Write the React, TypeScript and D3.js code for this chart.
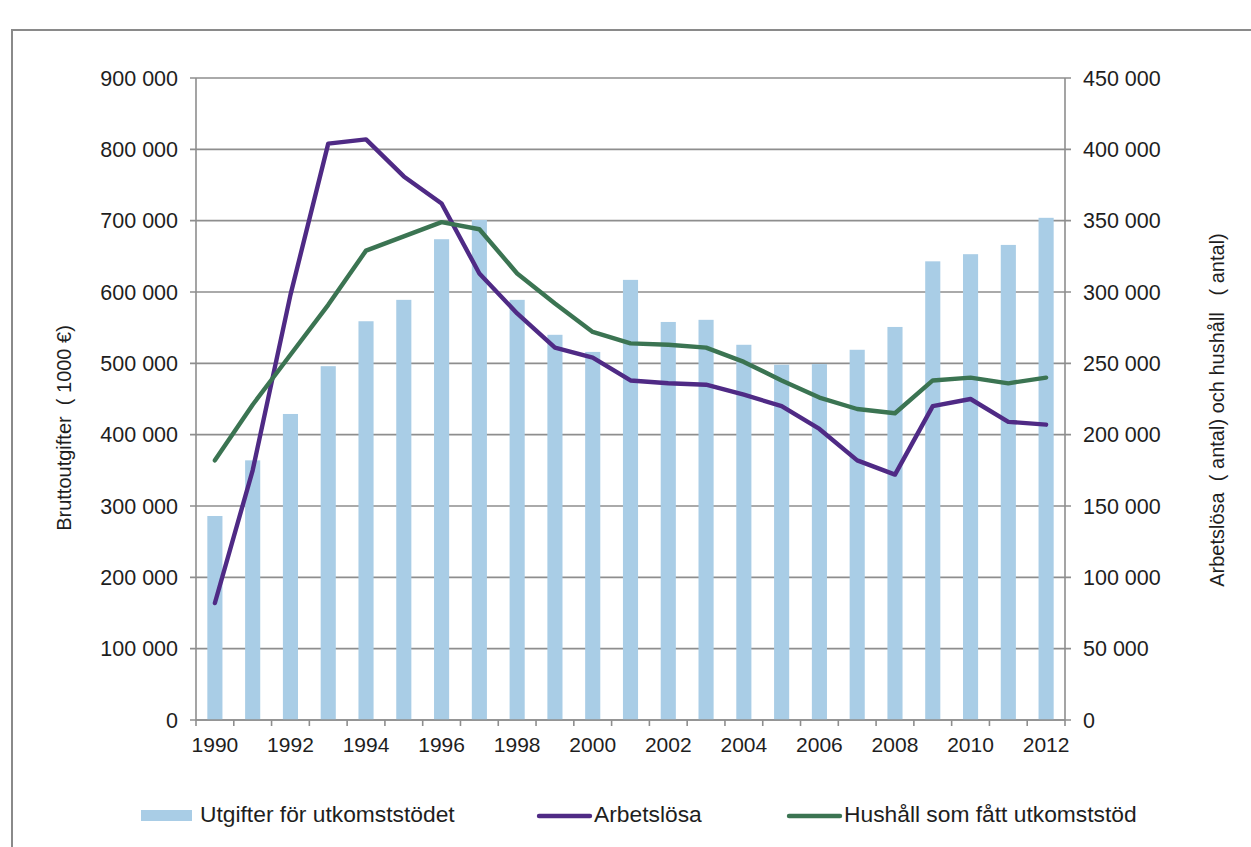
import React from "react";
import * as d3 from "d3";

const years = d3.range(1990, 2013).map(String);
const utgifter = [286000, 364000, 429000, 496000, 559000, 589000, 674000, 701000, 589000, 540000, 516000, 617000, 558000, 561000, 526000, 498000, 499000, 519000, 551000, 643000, 653000, 666000, 704000];
const arbetslosa = [82000, 175000, 298000, 404000, 407000, 381000, 362000, 313000, 285000, 261000, 254000, 238000, 236000, 235000, 228000, 220000, 204000, 182000, 172000, 220000, 225000, 209000, 207000];
const hushall = [182000, 221000, 256000, 291000, 329000, 339000, 349000, 344000, 313000, 292000, 272000, 264000, 263000, 261000, 251000, 238000, 226000, 218000, 215000, 238000, 240000, 236000, 240000];
const leftTicks = [0, 100000, 200000, 300000, 400000, 500000, 600000, 700000, 800000, 900000];
const rightTicks = [0, 50000, 100000, 150000, 200000, 250000, 300000, 350000, 400000, 450000];
const xLabels = ["1990", "1992", "1994", "1996", "1998", "2000", "2002", "2004", "2006", "2008", "2010", "2012"];

const seriesNames = ["Utgifter för utkomststödet", "Arbetslösa", "Hushåll som fått utkomststöd"];
const leftTitle = "Bruttoutgifter  ( 1000 €)";
const rightTitle = "Arbetslösa  ( antal) och hushåll   ( antal)";

const W = 1251, H = 847;
const L = 196, R = 1065, T = 78, B = 720;
const BAR = "#a9cde6", PURPLE = "#4f2a85", GREEN = "#3b7452", GRID = "#8e8e8e", TXT = "#1e1e1e";
const FONT = "Liberation Sans, Arial, sans-serif";

const fmt = (v: number) => d3.format(",")(v).replace(/,/g, " ");

export default function App() {
  const x = d3.scaleBand<string>().domain(years).range([L, R]).padding(0);
  const yL = d3.scaleLinear().domain([0, 900000]).range([B, T]);
  const yR = d3.scaleLinear().domain([0, 450000]).range([B, T]);
  const bw = x.bandwidth();
  const cx = (y: string) => (x(y) as number) + bw / 2;
  const line = d3.line<number>().x((_, i) => cx(years[i])).y((v) => yR(v));
  const boundaries = years.map((y) => x(y) as number).concat([R]);

  return (
    <svg width={W} height={H} style={{ position: "absolute", left: 0, top: 0, background: "#fff" }} fontFamily={FONT}>
      <rect x={0} y={0} width={W} height={H} fill="#fff" />
      <path d={`M12,${H + 5} L12,30 L${W + 5},30`} fill="none" stroke="#8a8a8a" strokeWidth={2} />
      {leftTicks.map((t) => (
        <line key={"g" + t} x1={L - 6} x2={R + 6} y1={yL(t)} y2={yL(t)} stroke={GRID} strokeWidth={1.6} />
      ))}
      {years.map((y, i) => (
        <rect key={"b" + y} x={cx(y) - bw * 0.2} width={bw * 0.4} y={yL(utgifter[i])} height={B - yL(utgifter[i])} fill={BAR} />
      ))}
      <line x1={L} x2={L} y1={T} y2={B} stroke={GRID} strokeWidth={1.6} />
      <line x1={R} x2={R} y1={T} y2={B} stroke={GRID} strokeWidth={1.6} />
      <line x1={L} x2={R} y1={B} y2={B} stroke={GRID} strokeWidth={1.6} />
      {boundaries.map((b, i) => (
        <line key={"xt" + i} x1={b} x2={b} y1={B} y2={B + 6} stroke={GRID} strokeWidth={1.6} />
      ))}
      <path d={line(arbetslosa) || ""} fill="none" stroke={PURPLE} strokeWidth={4.4} strokeLinejoin="round" strokeLinecap="round" />
      <path d={line(hushall) || ""} fill="none" stroke={GREEN} strokeWidth={4.4} strokeLinejoin="round" strokeLinecap="round" />
      {leftTicks.map((t) => (
        <text key={"lt" + t} x={178} y={yL(t)} dy="0.36em" textAnchor="end" fontSize={21.5} fill={TXT}>{fmt(t)}</text>
      ))}
      {rightTicks.map((t) => (
        <text key={"rt" + t} x={1083} y={yR(t)} dy="0.36em" textAnchor="start" fontSize={21.5} fill={TXT}>{fmt(t)}</text>
      ))}
      {xLabels.map((l) => (
        <text key={"xl" + l} x={cx(l)} y={752} textAnchor="middle" fontSize={21} fill={TXT}>{l}</text>
      ))}
      <text transform={`translate(71,428) rotate(-90)`} textAnchor="middle" fontSize={20} fill={TXT} style={{ whiteSpace: "pre" }}>{leftTitle}</text>
      <text transform={`translate(1224,410) rotate(-90)`} textAnchor="middle" fontSize={20} fill={TXT} style={{ whiteSpace: "pre" }}>{rightTitle}</text>
      <rect x={141} y={810} width={51} height={11} fill={BAR} />
      <text x={200} y={822} fontSize={22.8} fill={TXT}>{seriesNames[0]}</text>
      <line x1={539} x2={590} y1={816} y2={816} stroke={PURPLE} strokeWidth={4.4} strokeLinecap="round" />
      <text x={594} y={822} fontSize={22.8} fill={TXT}>{seriesNames[1]}</text>
      <line x1={789} x2={840} y1={816} y2={816} stroke={GREEN} strokeWidth={4.4} strokeLinecap="round" />
      <text x={844} y={822} fontSize={22.8} fill={TXT}>{seriesNames[2]}</text>
    </svg>
  );
}
